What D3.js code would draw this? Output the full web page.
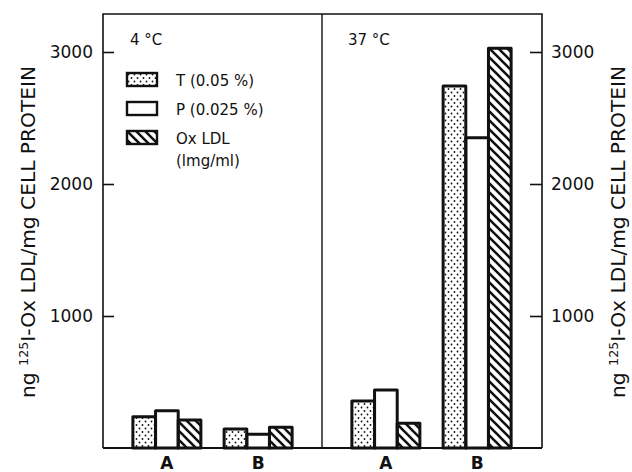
<!DOCTYPE html>
<html>
<head>
  <meta charset="utf-8">
  <title>Ox LDL uptake at 4 and 37 C</title>
  <script src="https://d3js.org/d3.v7.min.js"></script>
  <style>
    body { margin: 0; background: #fff; }
    text { font-family: "DejaVu Sans", sans-serif; fill: #111; }
    .axis .domain { display: none; }
    .axis line { stroke: #111; stroke-width: 1.6px; }
    .axis text { font-size: 17px; }
  </style>
</head>
<body>
<script>
  // Data
  var temps = ["4 °C", "37 °C"];
  var groups = ["A", "B"];
  var series = ["T", "P", "Ox"];
  var seriesLabels = [["T (0.05 %)"], ["P (0.025 %)"], ["Ox LDL", "(lmg/ml)"]];
  var cold = [[237, 283, 212], [144, 104, 157]];     // 4 °C, A then B
  var warm = [[356, 439, 187], [2742, 2350, 3028]];  // 37 °C, A then B
  var panelValues = [cold, warm];
  var yTicks = [1000, 2000, 3000];

  var width = 632, height = 472;
  var frame = {left: 103, right: 542, top: 14, bottom: 448, split: 322};

  var svg = d3.select("body").append("svg")
      .attr("width", width)
      .attr("height", height);

  // Patterns
  var defs = svg.append("defs");
  var dots = defs.append("pattern")
      .attr("id", "dots")
      .attr("patternUnits", "userSpaceOnUse")
      .attr("width", 6).attr("height", 7);
  dots.append("rect").attr("width", 6).attr("height", 7).attr("fill", "#fff");
  dots.append("circle").attr("cx", 1.5).attr("cy", 1.5).attr("r", 0.9).attr("fill", "#111");
  dots.append("circle").attr("cx", 4.5).attr("cy", 5).attr("r", 0.9).attr("fill", "#111");

  var hatch = defs.append("pattern")
      .attr("id", "hatch")
      .attr("patternUnits", "userSpaceOnUse")
      .attr("width", 9).attr("height", 9);
  hatch.append("rect").attr("width", 9).attr("height", 9).attr("fill", "#fff");
  hatch.append("path")
      .attr("d", "M0,0L9,9M-3,6L3,12M6,-3L12,3")
      .attr("stroke", "#111")
      .attr("stroke-width", 2.6);

  var fills = {T: "url(#dots)", P: "#fff", Ox: "url(#hatch)"};

  // Scales
  var y = d3.scaleLinear().domain([0, 3000]).range([frame.bottom, 52]);
  var panelX = d3.scaleOrdinal().domain(temps).range([frame.left, frame.split]);
  var x = d3.scalePoint().domain(groups).range([0, frame.split - frame.left]).padding(0.7);
  var xs = d3.scaleBand().domain(series).range([-34, 34]);

  // Bars: flat list
  var bars = [];
  temps.forEach(function(t, ti) {
    groups.forEach(function(g, gi) {
      series.forEach(function(s, si) {
        bars.push({temp: t, group: g, series: s, value: panelValues[ti][gi][si]});
      });
    });
  });

  function barX(d) { return panelX(d.temp) + x(d.group) + xs(d.series); }

  // fills first, outlines second so neighbours don't cover borders
  svg.append("g").selectAll("rect")
    .data(bars).enter().append("rect")
      .attr("x", barX)
      .attr("y", function(d) { return y(d.value); })
      .attr("width", xs.bandwidth())
      .attr("height", function(d) { return y(0) - y(d.value); })
      .attr("fill", function(d) { return fills[d.series]; });

  svg.append("g").selectAll("rect")
    .data(bars).enter().append("rect")
      .attr("x", barX)
      .attr("y", function(d) { return y(d.value); })
      .attr("width", xs.bandwidth())
      .attr("height", function(d) { return y(0) - y(d.value); })
      .attr("fill", "none")
      .attr("stroke", "#111")
      .attr("stroke-width", 3)
      .attr("stroke-linejoin", "round");

  // Frame
  var fr = svg.append("g").attr("stroke", "#111").attr("fill", "none");
  fr.append("path")
    .attr("d", "M" + frame.left + "," + frame.bottom + "V" + frame.top + "H" + frame.right + "V" + frame.bottom)
    .attr("stroke-width", 1.6);
  fr.append("line")
    .attr("x1", frame.split).attr("x2", frame.split)
    .attr("y1", frame.top).attr("y2", frame.bottom)
    .attr("stroke-width", 1.4);
  fr.append("line")
    .attr("x1", frame.left).attr("x2", frame.right)
    .attr("y1", frame.bottom).attr("y2", frame.bottom)
    .attr("stroke-width", 2.2);

  // axes (ticks point inward)
  svg.append("g")
    .attr("class", "axis")
    .attr("transform", "translate(" + (frame.left + 11) + ",0)")
    .call(d3.axisLeft(y).tickValues(yTicks).tickSize(11).tickPadding(10).tickFormat(d3.format("d")));

  svg.append("g")
    .attr("class", "axis")
    .attr("transform", "translate(" + (frame.right - 12) + ",0)")
    .call(d3.axisRight(y).tickValues(yTicks).tickSize(12).tickPadding(9).tickFormat(d3.format("d")));

  // group labels
  temps.forEach(function(t) {
    svg.append("g").selectAll("text")
      .data(groups).enter().append("text")
        .attr("x", function(g) { return panelX(t) + x(g); })
        .attr("y", 469)
        .attr("text-anchor", "middle")
        .style("font-size", "17px")
        .style("font-weight", "bold")
        .text(function(g) { return g; });
  });

  // panel titles
  svg.selectAll(".ptitle")
    .data(temps).enter().append("text")
      .attr("class", "ptitle")
      .attr("x", function(t) { return panelX(t) + (t === temps[0] ? 27 : 26); })
      .attr("y", 45)
      .style("font-size", "15px")
      .text(function(t) { return t; });

  // Legend
  var legend = svg.append("g").attr("transform", "translate(127,73)");
  series.forEach(function(s, i) {
    var row = legend.append("g").attr("transform", "translate(0," + (i * 29) + ")");
    row.append("rect")
      .attr("width", 30).attr("height", 13)
      .attr("fill", fills[s])
      .attr("stroke", "#111")
      .attr("stroke-width", 2.4);
    seriesLabels[i].forEach(function(line, j) {
      row.append("text")
        .attr("x", 49)
        .attr("y", 13 + j * 22)
        .style("font-size", "15px")
        .text(line);
    });
  });

  // Y labels, both sides
  [28, 618].forEach(function(cx) {
    var lab = svg.append("text")
      .attr("transform", "translate(" + cx + ",232) rotate(-90)")
      .attr("text-anchor", "middle")
      .attr("dy", "0.35em")
      .attr("textLength", 332)
      .attr("lengthAdjust", "spacingAndGlyphs")
      .style("font-size", "19px");
    lab.append("tspan").text("ng ");
    lab.append("tspan").attr("baseline-shift", "super").style("font-size", "12px").text("125");
    lab.append("tspan").text("I-Ox LDL/mg CELL PROTEIN");
  });
</script>
</body>
</html>
